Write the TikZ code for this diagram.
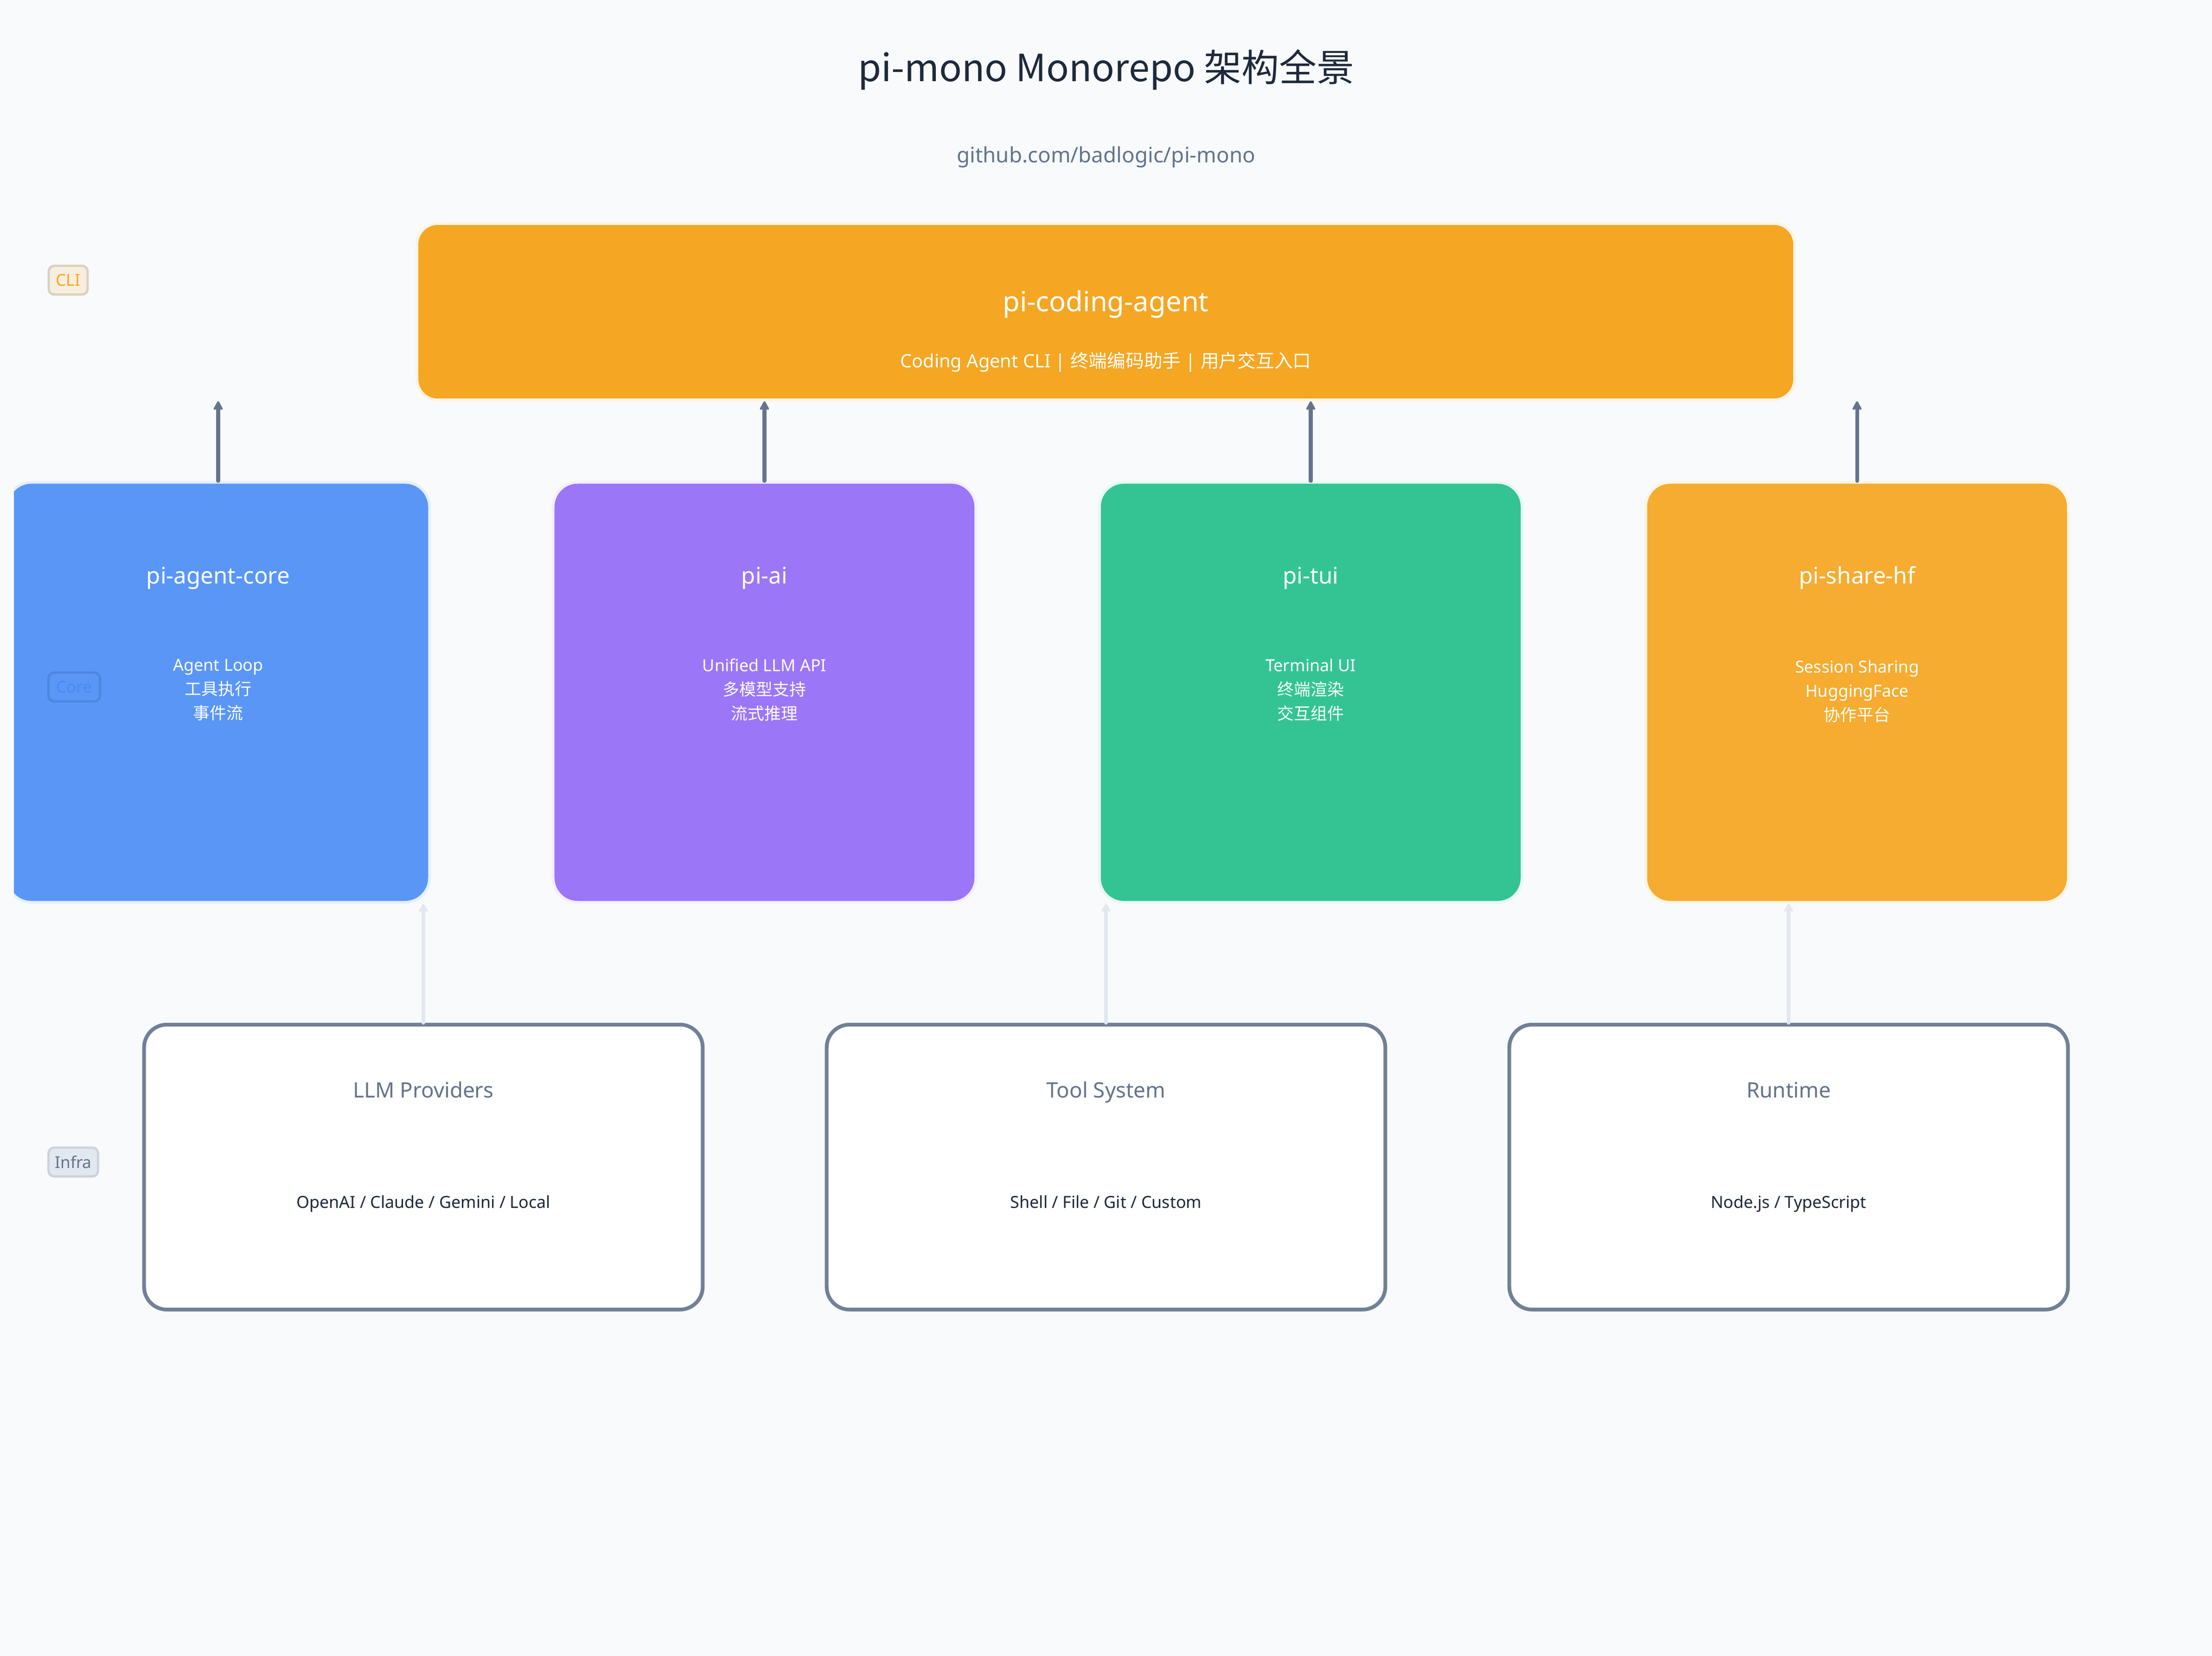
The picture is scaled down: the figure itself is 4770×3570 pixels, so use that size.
\documentclass[tikz,border=0pt]{standalone}
\usepackage{fontspec}
\setmainfont{Noto Sans}
\newfontfamily\cjk{Noto Sans CJK SC}
\usetikzlibrary{arrows.meta}
\definecolor{bgc}{HTML}{F8FAFC}
\definecolor{ink}{HTML}{1E293B}
\definecolor{muted}{HTML}{64748B}
\definecolor{edge}{HTML}{E2E8F0}
\definecolor{frame}{HTML}{718096}
\definecolor{cliorange}{HTML}{F5A623}
\definecolor{coreblue}{HTML}{5A96F6}
\definecolor{aipurple}{HTML}{9B76F7}
\definecolor{tuigreen}{HTML}{34C493}
\definecolor{shareorange}{HTML}{F5AC31}
\definecolor{coretagtext}{HTML}{4A89F4}
\definecolor{coretagline}{HTML}{4E86E0}
\definecolor{clitagline}{HTML}{DAD0C2}
\tikzset{
  pkg/.style={rounded corners=15pt, minimum width=9.11cm, minimum height=9.05cm, inner sep=0pt, line width=1.7pt},
  pkgtitle/.style={text=white, text height=0.75em, text depth=0.25em, font=\fontsize{14pt}{17pt}\selectfont},
  pkgdesc/.style={text=white, align=center, font=\fontsize{10.2pt}{14.8pt}\selectfont},
  infra/.style={rounded corners=14pt, minimum width=12.04cm, minimum height=6.14cm, inner sep=0pt, line width=2.3pt, draw=frame, fill=white},
  infratitle/.style={text=muted, text height=0.75em, text depth=0.25em, font=\fontsize{13pt}{16pt}\selectfont},
  infradesc/.style={text=ink, text height=0.75em, text depth=0.25em, font=\fontsize{10.2pt}{12pt}\selectfont},
  layer/.style={rounded corners=3.5pt, line width=1.4pt, inner sep=0pt, minimum height=0.62cm, font=\fontsize{10pt}{12pt}\selectfont},
  uparrow/.style={draw=muted, line width=2.3pt, line cap=round, -{Stealth[length=6.5pt, width=7pt, inset=1.5pt, round]}},
  downlink/.style={draw=edge, line width=2.3pt, line cap=round, -{Stealth[length=6pt, width=7pt, inset=1.5pt, round]}}
}
\begin{document}
\begin{tikzpicture}[x=0.01cm, y=-0.01cm]
\useasboundingbox[fill=bgc] (0,0) rectangle (4770,3570);
% heading
\node[text=ink, font=\fontsize{23pt}{28pt}\selectfont] (title) at (2385,150) {\cjk pi-mono Monorepo 架构全景};
\node[text=muted, font=\fontsize{13pt}{16pt}\selectfont] (url) at (2385,339) {github.com/badlogic/pi-mono};
% cli layer
\node[rounded corners=12.7pt, minimum width=29.69cm, minimum height=3.8cm, line width=1.7pt, fill=cliorange, draw=cliorange!12!white] (agent) at (2384.5,672) {};
\node[text=white, font=\fontsize{17pt}{20pt}\selectfont] (agentT) at ([yshift=0.16cm]agent.center) {pi-coding-agent};
\node[text=white, font=\fontsize{11.3pt}{14pt}\selectfont] (agentD) at ([yshift=-1.08cm]agent.center) {Coding Agent CLI | {\cjk 终端编码助手} | {\cjk 用户交互入口}};
% core layer
\begin{scope}
\clip (30,0) rectangle (4770,3570);
\node[pkg, fill=coreblue, draw=coreblue!15!white] (core) at (470.5,1492.5) {};
\end{scope}
\node[pkg, fill=aipurple, draw=aipurple!12!white] (ai) at (1648.5,1492.5) {};
\node[pkg, fill=tuigreen, draw=tuigreen!12!white] (tui) at (2826.5,1492.5) {};
\node[pkg, fill=shareorange, draw=shareorange!12!white] (share) at (4004.5,1492.5) {};
\node[pkgtitle] (coreT) at ([yshift=-2.13cm]core.north) {pi-agent-core};
\node[pkgtitle] (aiT) at ([yshift=-2.13cm]ai.north) {pi-ai};
\node[pkgtitle] (tuiT) at ([yshift=-2.13cm]tui.north) {pi-tui};
\node[pkgtitle] (shareT) at ([yshift=-2.13cm]share.north) {pi-share-hf};
\node[pkgdesc] (coreD) at ([yshift=0.05cm]core.center) {Agent Loop\\{\cjk 工具执行}\\{\cjk 事件流}};
\node[pkgdesc] (aiD) at ([yshift=0.05cm]ai.center) {Unified LLM API\\{\cjk 多模型支持}\\{\cjk 流式推理}};
\node[pkgdesc] (tuiD) at ([yshift=0.05cm]tui.center) {Terminal UI\\{\cjk 终端渲染}\\{\cjk 交互组件}};
\node[pkgdesc] (shareD) at ([yshift=0.02cm]share.center) {Session Sharing\\HuggingFace\\{\cjk 协作平台}};
% infra layer
\node[infra] (llm) at (913,2516) {};
\node[infra] (tools) at (2385,2516) {};
\node[infra] (runtime) at (3857,2516) {};
\node[infratitle] (llmT) at ([yshift=1.58cm]llm.center) {LLM Providers};
\node[infratitle] (toolsT) at ([yshift=1.58cm]tools.center) {Tool System};
\node[infratitle] (runtimeT) at ([yshift=1.58cm]runtime.center) {Runtime};
\node[infradesc] (llmD) at ([yshift=-0.8cm]llm.center) {OpenAI / Claude / Gemini / Local};
\node[infradesc] (toolsD) at ([yshift=-0.8cm]tools.center) {Shell / File / Git / Custom};
\node[infradesc] (runtimeD) at ([yshift=-0.8cm]runtime.center) {Node.js / TypeScript};
% layer tags
\node[layer, minimum width=0.84cm, fill=cliorange!14!bgc, draw=clitagline, text=cliorange] (cliTag) at (147,604) {CLI};
\node[layer, minimum width=1.11cm, fill=coreblue, draw=coretagline, text=coretagtext] (coreTag) at (160,1481) {Core};
\node[layer, minimum width=1.07cm, fill=edge, draw=frame!35!white, text=muted] (infraTag) at (158,2505) {Infra};
% dependencies
\draw[uparrow] (core.north) -- (core.north |- agent.south);
\draw[uparrow] (ai.north) -- (ai.north |- agent.south);
\draw[uparrow] (tui.north) -- (tui.north |- agent.south);
\draw[uparrow] (share.north) -- (share.north |- agent.south);
\draw[downlink] (llm.north) -- (llm.north |- core.south);
\draw[downlink] (tools.north) -- (tools.north |- tui.south);
\draw[downlink] (runtime.north) -- (runtime.north |- share.south);
\end{tikzpicture}
\end{document}
